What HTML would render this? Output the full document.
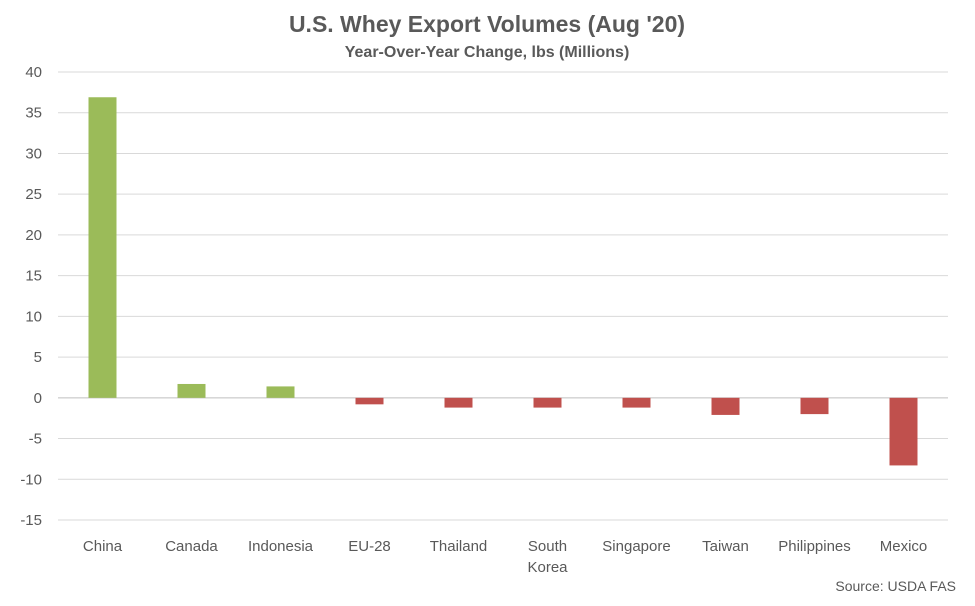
<!DOCTYPE html>
<html><head><meta charset="utf-8"><style>
body{margin:0;background:#fff;font-family:"Liberation Sans",Arial,sans-serif;}
svg text{font-family:"Liberation Sans",Arial,sans-serif;fill:#595959;}
</style></head><body>
<svg id="chart" width="975" height="601" viewBox="0 0 975 601">
<rect width="975" height="601" fill="#fff"/>
<text x="487" y="32" text-anchor="middle" font-size="23" font-weight="bold">U.S. Whey Export Volumes (Aug '20)</text>
<text x="487" y="57" text-anchor="middle" font-size="16" font-weight="bold">Year-Over-Year Change, lbs (Millions)</text>
<g id="grid"></g><g id="bars"></g><g id="ylabels"></g><g id="xlabels"></g>
<text x="956" y="591" text-anchor="end" font-size="14">Source: USDA FAS</text>
</svg>
<script>
const categories=["China","Canada","Indonesia","EU-28","Thailand","South|Korea","Singapore","Taiwan","Philippines","Mexico"];
const values=[36.9,1.7,1.4,-0.8,-1.2,-1.2,-1.2,-2.1,-2.0,-8.3];
const yTicks=[40,35,30,25,20,15,10,5,0,-5,-10,-15];
const NS="http://www.w3.org/2000/svg";
const x0=58,x1=948,yTop=72,yBot=520,yMax=40,yMin=-15;
const y=v=>yTop+(yMax-v)*(yBot-yTop)/(yMax-yMin);
const band=(x1-x0)/categories.length;
const xc=i=>x0+band*(i+0.5);
function mk(t,a,p){const e=document.createElementNS(NS,t);for(const k in a)e.setAttribute(k,a[k]);p.appendChild(e);return e;}
const grid=document.getElementById('grid'),yl=document.getElementById('ylabels');
yTicks.forEach(t=>{
 const l=mk('line',{x1:x0,x2:x1,y1:y(t),y2:y(t),stroke:t===0?'#BFBFBF':'#D9D9D9','stroke-width':1},grid);
 
 
 const tx=mk('text',{x:42,y:y(t)+5,'text-anchor':'end','font-size':15},yl);tx.textContent=t;
 
 
});
const bars=document.getElementById('bars'),xl=document.getElementById('xlabels');
categories.forEach((c,i)=>{
 const v=values[i],bw=28;
 const r=mk('rect',{x:xc(i)-bw/2,y:Math.min(y(v),y(0)),width:bw,height:Math.abs(y(v)-y(0)),fill:v>=0?'#9BBB59':'#C0504D'},bars);
 
 
 c.split('|').forEach((p,j)=>{
  const t=mk('text',{x:xc(i),y:551+j*21,'text-anchor':'middle','font-size':15},xl);t.textContent=p;
  
  
 });
});
</script>
</body></html>
